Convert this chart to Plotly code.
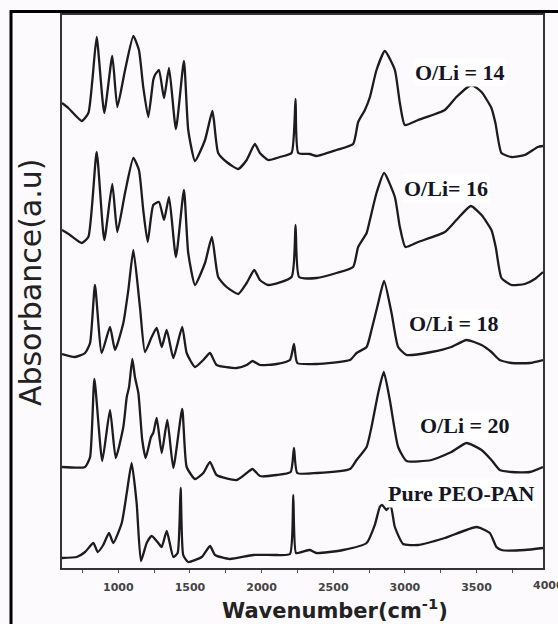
import plotly.graph_objects as go

# ---- data (wavenumber in cm-1, absorbance in a.u., stacked) ----
wn_14 = [607, 651, 745, 791, 819, 849, 902, 958, 993, 1047, 1105, 1144, 1174, 1209, 1244, 1256, 1284, 1319,
         1354, 1402, 1458, 1488, 1535, 1605, 1656, 1667, 1697, 1756, 1837, 1896, 1953, 1988, 2046, 2128, 2209,
         2237, 2256, 2337, 2384, 2523, 2639, 2674, 2721, 2756, 2802, 2860, 2930, 2965, 3000, 3093, 3279, 3360,
         3465, 3535, 3604, 3632, 3674, 3744, 3837, 3928, 3964]
ab_14 = [4.65, 4.60, 4.47, 4.55, 4.88, 5.31, 4.55, 5.12, 4.61, 4.98, 5.32, 5.18, 4.81, 4.51, 4.88, 4.93, 4.98, 4.70,
         5.00, 4.39, 5.07, 4.38, 4.07, 4.28, 4.57, 4.48, 4.15, 4.06, 3.99, 4.08, 4.24, 4.15, 4.08, 4.11, 4.15,
         4.69, 4.15, 4.14, 4.12, 4.18, 4.24, 4.46, 4.58, 4.71, 4.98, 5.17, 4.98, 4.65, 4.43, 4.48, 4.58, 4.71,
         4.83, 4.76, 4.60, 4.45, 4.15, 4.11, 4.13, 4.21, 4.22]

wn_16 = [607, 663, 745, 791, 849, 902, 958, 993, 1047, 1105, 1144, 1174, 1205, 1244, 1284, 1319, 1354, 1402,
         1458, 1488, 1535, 1605, 1653, 1697, 1756, 1837, 1896, 1949, 1988, 2046, 2209, 2237, 2262, 2384, 2523,
         2639, 2674, 2733, 2756, 2802, 2855, 2930, 2965, 3004, 3093, 3279, 3360, 3460, 3535, 3604, 3634, 3674,
         3744, 3837, 3907, 3964]
ab_16 = [3.38, 3.33, 3.25, 3.31, 4.16, 3.28, 3.84, 3.36, 3.75, 4.10, 3.98, 3.58, 3.26, 3.63, 3.66, 3.48, 3.71, 3.11,
         3.78, 3.15, 2.83, 3.05, 3.31, 2.91, 2.81, 2.74, 2.85, 2.98, 2.88, 2.83, 2.91, 3.43, 2.91, 2.90, 2.95,
         3.01, 3.21, 3.35, 3.48, 3.75, 3.95, 3.71, 3.41, 3.21, 3.26, 3.36, 3.48, 3.62, 3.53, 3.38, 3.21, 2.90,
         2.83, 2.84, 2.89, 2.96]

wn_18 = [607, 698, 768, 803, 837, 884, 942, 977, 1035, 1070, 1105, 1151, 1186, 1233, 1268, 1303, 1338, 1384,
         1446, 1477, 1535, 1593, 1640, 1686, 1826, 1896, 1937, 1988, 2105, 2198, 2226, 2249, 2384, 2617, 2663,
         2733, 2767, 2814, 2855, 2907, 2953, 3012, 3186, 3325, 3430, 3535, 3604, 3662, 3744, 3872, 3964]
ab_18 = [2.14, 2.11, 2.15, 2.25, 2.83, 2.15, 2.41, 2.18, 2.45, 2.78, 3.18, 2.61, 2.16, 2.31, 2.40, 2.21, 2.38, 2.10,
         2.41, 2.15, 2.01, 2.08, 2.15, 2.03, 2.00, 2.03, 2.07, 2.03, 2.04, 2.08, 2.24, 2.05, 2.04, 2.08, 2.15,
         2.21, 2.38, 2.65, 2.87, 2.55, 2.21, 2.13, 2.16, 2.21, 2.28, 2.23, 2.16, 2.08, 2.05, 2.05, 2.08]

wn_20 = [607, 768, 803, 833, 888, 942, 982, 1035, 1059, 1075, 1098, 1116, 1140, 1167, 1191, 1228, 1244, 1268,
         1303, 1342, 1384, 1446, 1477, 1535, 1593, 1640, 1686, 1826, 1896, 1937, 1988, 2105, 2203, 2226, 2249,
         2384, 2617, 2663, 2733, 2767, 2814, 2853, 2895, 2953, 3012, 3186, 3325, 3430, 3535, 3604, 3662, 3744,
         3872, 3964]
ab_20 = [1.01, 1.01, 1.11, 1.89, 1.07, 1.58, 1.10, 1.41, 1.71, 1.81, 2.09, 1.91, 1.75, 1.28, 1.10, 1.31, 1.35, 1.50,
         1.15, 1.48, 1.00, 1.59, 1.01, 0.89, 0.95, 1.06, 0.93, 0.88, 0.95, 0.99, 0.92, 0.93, 0.96, 1.20, 0.95,
         0.95, 0.99, 1.08, 1.21, 1.41, 1.75, 1.96, 1.68, 1.21, 1.07, 1.08, 1.16, 1.25, 1.18, 1.08, 0.98, 0.96,
         0.96, 1.01]

wn_pure = [607, 710, 768, 826, 856, 895, 935, 965, 1024, 1059, 1093, 1128, 1158, 1198, 1233, 1279, 1303, 1338,
           1384, 1414, 1435, 1453, 1488, 1582, 1640, 1675, 1779, 1942, 2105, 2198, 2221, 2240, 2279, 2337, 2384,
           2569, 2733, 2790, 2825, 2841, 2872, 2900, 2930, 2988, 3093, 3279, 3500, 3593, 3639, 3674, 3837, 3964]
ab_pure = [0.10, 0.11, 0.16, 0.25, 0.16, 0.23, 0.35, 0.25, 0.45, 0.75, 1.05, 0.65, 0.07, 0.25, 0.32, 0.25, 0.21, 0.37,
           0.11, 0.15, 0.80, 0.13, 0.06, 0.11, 0.22, 0.13, 0.09, 0.13, 0.13, 0.14, 0.73, 0.15, 0.16, 0.18, 0.15,
           0.18, 0.25, 0.43, 0.61, 0.63, 0.58, 0.63, 0.41, 0.24, 0.23, 0.30, 0.41, 0.35, 0.21, 0.18, 0.18, 0.20]

labels = ["O/Li = 14", "O/Li= 16", "O/Li = 18", "O/Li = 20", "Pure PEO-PAN"]
label_x = [3383, 3286, 3342, 3418, 3394]
label_y = [4.96, 3.80, 2.45, 1.43, 0.75]

x_min, x_max = 607, 3964
y_min, y_max = 0, 5.53
tick_vals = [1000, 1500, 2000, 2500, 3000, 3500]
tick_text = ["1000", "1500", "2000", "2500", "3000", "3500"]
edge_tick = 4000

series = [(wn_14, ab_14), (wn_16, ab_16), (wn_18, ab_18), (wn_20, ab_20), (wn_pure, ab_pure)]

fig = go.Figure()
for (wx, ay), name in zip(series, labels):
    fig.add_trace(go.Scatter(x=wx, y=ay, mode="lines", name=name,
                             line=dict(color="#1c1c1c", width=2.3, shape="spline", smoothing=0.5),
                             showlegend=False, hoverinfo="skip"))

ann = []
for t, lx, ly in zip(labels, label_x, label_y):
    ann.append(dict(x=lx, y=ly, xref="x", yref="y", text="<b>%s</b>" % t, showarrow=False,
                    xanchor="center", yanchor="middle",
                    font=dict(family="Liberation Serif", size=22, color="#151525"),
                    bgcolor="#ffffff", borderpad=1))

# tick label at the right edge (beyond the drawn range)
ann.append(dict(x=(edge_tick - x_min) / (x_max - x_min), y=0, xref="paper", yref="paper",
                text="<b>%d</b>" % edge_tick, showarrow=False, xanchor="center", yanchor="middle",
                yshift=-17, font=dict(family="DejaVu Sans", size=11, color="#444")))

ann.append(dict(x=-0.0665, y=0.517, xref="paper", yref="paper", text="Absorbance(a.u)",
                textangle=-90, showarrow=False, xanchor="center", yanchor="middle",
                font=dict(family="DejaVu Sans", size=30, color="#222")))
ann.append(dict(x=0.5676, y=-0.0741, xref="paper", yref="paper", text="<b>Wavenumber(cm<sup>-1</sup>)</b>",
                showarrow=False, xanchor="center", yanchor="middle",
                font=dict(family="DejaVu Sans", size=21, color="#222")))

fig.update_layout(
    width=558, height=624,
    margin=dict(l=62, r=15, t=15, b=56),
    paper_bgcolor="#fcfafd", plot_bgcolor="#fcfafd",
    annotations=ann,
    shapes=[dict(type="rect", xref="paper", yref="paper", x0=-0.106, x1=1.3, y0=-0.3, y1=1.0063,
                 line=dict(color="#000", width=3), layer="above")],
    xaxis=dict(range=[x_min, x_max], showgrid=False, zeroline=False,
               showline=True, mirror=True, linecolor="#333", linewidth=1.5,
               tickvals=tick_vals, ticktext=["<b>%s</b>" % s for s in tick_text],
               ticks="outside", ticklen=3, tickcolor="#555", ticklabelstandoff=5,
               minor=dict(dtick=250, tick0=0, ticks="outside", ticklen=3, tickcolor="#555"),
               tickfont=dict(family="DejaVu Sans", size=11, color="#444")),
    yaxis=dict(range=[y_min, y_max], showgrid=False, zeroline=False,
               showline=True, mirror=True, linecolor="#333", linewidth=1.5,
               showticklabels=False, ticks=""),
)

fig.write_html("out.html", config={"displayModeBar": False},
               post_script="document.body.style.margin='0';document.body.style.overflow='hidden';"
                           "document.body.style.background='#fcfafd';")
